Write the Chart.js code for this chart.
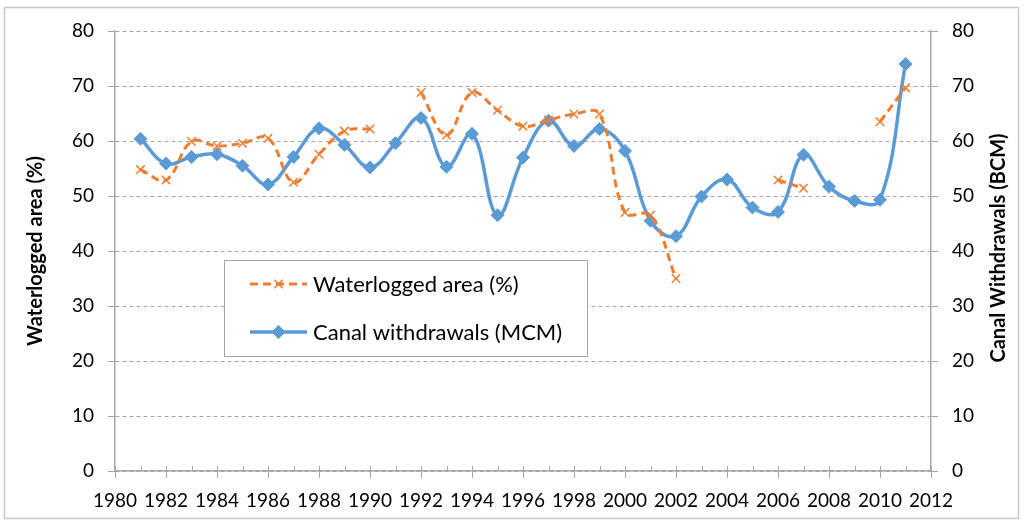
<!DOCTYPE html>
<html>
<head>
<meta charset="utf-8">
<script src="https://cdn.jsdelivr.net/npm/chart.js@4/dist/chart.umd.min.js"></script>
<style>
  html, body { margin: 0; padding: 0; background: #fff; }
  #wrap { position: relative; width: 1024px; height: 526px; }
</style>
</head>
<body>
<div id="wrap"><canvas id="waterChart" width="1024" height="526"></canvas></div>
<script>
const years = [1981, 1982, 1983, 1984, 1985, 1986, 1987, 1988, 1989, 1990,
  1991, 1992, 1993, 1994, 1995, 1996, 1997, 1998, 1999, 2000,
  2001, 2002, 2003, 2004, 2005, 2006, 2007, 2008, 2009, 2010, 2011];
const waterlogged = [54.8, 52.9, 59.9, 59.1, 59.6, 60.5, 52.5, 57.6, 61.8, 62.2,
  null, 68.8, 61.1, 68.8, 65.6, 62.7, 63.8, 64.9, 64.9, 47.0,
  46.5, 35.0, null, null, null, 52.9, 51.4, null, null, 63.5, 69.7];
const canal = [60.4, 55.9, 57.1, 57.6, 55.5, 52.1, 57.1, 62.3, 59.3, 55.2,
  59.6, 64.2, 55.3, 61.3, 46.5, 57.0, 63.7, 59.1, 62.2, 58.2,
  45.5, 42.7, 49.9, 53.0, 47.9, 47.1, 57.5, 51.7, 49.1, 49.3, 74.0];
const xMin = 1980, xMax = 2012;
const yMin = 0, yMax = 80, yStep = 10;

const seriesNames = ["Waterlogged area (%)", "Canal withdrawals (MCM)"];
const leftTitle = "Waterlogged area (%)";
const rightTitle = "Canal Withdrawals (BCM)";

const FONT = "Lato, 'Open Sans', sans-serif";
const axisGrey = "#a6a6a6";

const toPoints = (vals) => vals.map((v, i) => ({x: years[i], y: v}));

// outer frame, x-axis tick marks, right title (reads upwards) and the boxed legend
const extras = {
  id: "extras",
  beforeDraw(chart) {
    const c = chart.ctx;
    c.save();
    c.strokeStyle = "#c8c8c8";
    c.lineWidth = 1.5;
    c.strokeRect(4.5, 7.5, 1014, 511);
    c.restore();
  },
  afterDraw(chart) {
    const c = chart.ctx;
    const xs = chart.scales.x;
    const axisY = chart.chartArea.bottom;
    c.save();

    // year ticks: major every 2 years cross the axis, minor only inside
    c.strokeStyle = axisGrey;
    c.lineWidth = 1;
    for (let yr = xMin; yr <= xMax; yr++) {
      const px = Math.round(xs.getPixelForValue(yr)) + 0.5;
      c.beginPath();
      c.moveTo(px, axisY - 5);
      c.lineTo(px, yr % 2 === 0 ? axisY + 7 : axisY);
      c.stroke();
    }

    // right axis title, rotated like the left one
    c.save();
    c.translate(999, 248);
    c.rotate(-Math.PI / 2);
    c.fillStyle = "#000";
    c.font = "bold 20px " + FONT;
    c.textAlign = "center";
    c.textBaseline = "middle";
    c.fillText(rightTitle, 0, 0);
    c.restore();

    // legend
    c.strokeStyle = axisGrey;
    c.lineWidth = 1;
    c.fillStyle = "#fff";
    c.fillRect(224.5, 260.5, 363, 96);
    c.strokeRect(224.5, 260.5, 363, 96);
    const rows = [284, 332];
    chart.data.datasets.forEach((ds, i) => {
      const y = rows[i];
      c.beginPath();
      c.setLineDash(ds.borderDash || []);
      c.strokeStyle = ds.borderColor;
      c.lineWidth = ds.borderWidth;
      c.moveTo(250, y);
      c.lineTo(307, y);
      c.stroke();
      c.setLineDash([]);
      c.fillStyle = ds.pointBackgroundColor;
      c.strokeStyle = ds.pointBorderColor;
      c.lineWidth = ds.pointBorderWidth;
      Chart.helpers.drawPoint(c, {
        pointStyle: ds.pointStyle, radius: ds.pointRadius,
        borderWidth: ds.pointBorderWidth, rotation: 0
      }, 278.5, y);
      c.fillStyle = "#000";
      c.font = "22px " + FONT;
      c.textAlign = "left";
      c.textBaseline = "middle";
      c.fillText(ds.label, 313, y + 1);
    });
    c.restore();
  }
};

const ctx = document.getElementById("waterChart").getContext("2d");
const chart = new Chart(ctx, {
  type: "line",
  data: {
    datasets: [{
      label: seriesNames[0],
      data: toPoints(waterlogged),
      yAxisID: "y",
      borderColor: "#ED7D31",
      backgroundColor: "#ED7D31",
      borderWidth: 3,
      borderDash: [8, 5],
      tension: 0.4,
      spanGaps: false,
      pointStyle: "crossRot",
      pointRadius: 6,
      pointBorderWidth: 1.5,
      pointBorderColor: "#ED7D31",
      pointBackgroundColor: "#ED7D31"
    }, {
      label: seriesNames[1],
      data: toPoints(canal),
      yAxisID: "y1",
      borderColor: "#5B9BD5",
      backgroundColor: "#5B9BD5",
      borderWidth: 3.5,
      tension: 0.4,
      pointStyle: "rectRot",
      pointRadius: 6.5,
      pointBorderWidth: 1,
      pointBorderColor: "#5B9BD5",
      pointBackgroundColor: "#5B9BD5"
    }]
  },
  options: {
    responsive: false,
    animation: false,
    devicePixelRatio: 1,
    layout: { padding: { top: 31, left: 0, right: 0, bottom: 0 } },
    plugins: { legend: { display: false }, tooltip: { enabled: false } },
    scales: {
      x: {
        type: "linear",
        min: xMin, max: xMax,
        afterFit: (s) => { s.height = 55; },
        ticks: {
          stepSize: 1,
          autoSkip: false,
          maxRotation: 0,
          padding: 18,
          color: "#000",
          font: { family: FONT, size: 19 },
          callback: (v) => (v % 2 === 0 ? String(v) : "")
        },
        grid: { drawOnChartArea: false, drawTicks: false },
        border: { color: axisGrey, width: 1.5 }
      },
      y: {
        position: "left",
        min: yMin, max: yMax,
        afterFit: (s) => { s.width = 115; },
        ticks: { stepSize: yStep, padding: 14, color: "#000", font: { family: FONT, size: 19 } },
        grid: { color: axisGrey, tickColor: axisGrey, tickLength: 7, lineWidth: 1, tickBorderDash: [] },
        border: { color: axisGrey, width: 1.5, dash: [4, 3] },
        title: { display: true, text: leftTitle, color: "#000", font: { family: FONT, size: 20, weight: "bold" }, padding: { top: 24, bottom: 0 } }
      },
      y1: {
        position: "right",
        min: yMin, max: yMax,
        afterFit: (s) => { s.width = 93; },
        ticks: { stepSize: yStep, padding: 14, color: "#000", font: { family: FONT, size: 19 } },
        grid: { drawOnChartArea: false, color: axisGrey, tickColor: axisGrey, tickLength: 7 },
        border: { color: axisGrey, width: 1.5 }
      }
    }
  },
  plugins: [extras]
});
</script>
</body>
</html>
